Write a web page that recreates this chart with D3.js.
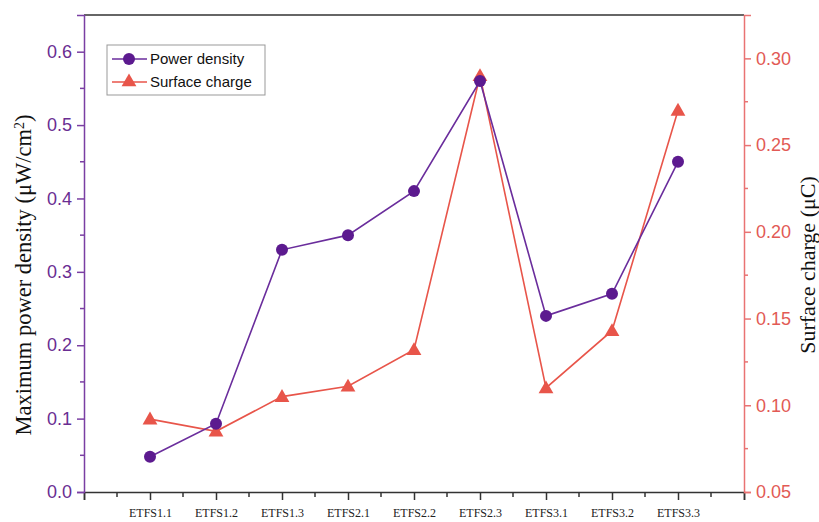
<!DOCTYPE html>
<html>
<head>
<meta charset="utf-8">
<script src="https://cdn.jsdelivr.net/npm/d3@7"></script>
<style>
  html, body { margin: 0; padding: 0; background: #fff; }
  svg { display: block; }
</style>
</head>
<body>
<svg id="chart" width="819" height="522"></svg>
<script>
// Samples along the x axis
const categories = ["ETFS1.1", "ETFS1.2", "ETFS1.3", "ETFS2.1", "ETFS2.2", "ETFS2.3", "ETFS3.1", "ETFS3.2", "ETFS3.3"];
// Maximum power density, µW/cm² (left axis)
const powerDensity = [0.048, 0.093, 0.33, 0.35, 0.41, 0.56, 0.24, 0.27, 0.45];
// Surface charge, µC (right axis)
const surfaceCharge = [0.092, 0.085, 0.105, 0.111, 0.132, 0.29, 0.110, 0.143, 0.27];
// Tick values
const leftTicks = [0.0, 0.1, 0.2, 0.3, 0.4, 0.5, 0.6];
const rightTicks = [0.05, 0.10, 0.15, 0.20, 0.25, 0.30];

const purple = "#5c1a8f";
const purpleLine = "#6a2d9c";
const purpleAxis = "#7a3fa3";
const red = "#e8554a";
const redAxis = "#e97373";

const svg = d3.select("#chart");
const m = { left: 84, right: 744, top: 15, bottom: 492 };

const x = d3.scaleLinear().domain([0, 10]).range([m.left, m.right]);
const yL = d3.scaleLinear().domain([0, 0.65]).range([m.bottom, m.top]);
const yR = d3.scaleLinear().domain([0.05, 0.325]).range([m.bottom, m.top]);

// Frame: top edge
svg.append("line")
  .attr("x1", m.left).attr("x2", m.right)
  .attr("y1", m.top).attr("y2", m.top)
  .attr("stroke", "#333").attr("stroke-width", 1.5);

// Bottom axis with category labels and half-step minor ticks
const xMinor = d3.range(0, 10.01, 0.5).filter(v => v % 1 !== 0);
const gx = svg.append("g").attr("transform", `translate(0,${m.bottom})`);
gx.call(d3.axisBottom(x).tickValues(d3.range(0, 11)).tickSize(8)
  .tickFormat(d => (d >= 1 && d <= categories.length) ? categories[d - 1] : ""));
gx.select(".domain").attr("stroke", "#333").attr("stroke-width", 1.5);
gx.selectAll(".tick line").attr("stroke", "#333").attr("stroke-width", 1.5);
gx.selectAll(".tick text")
  .attr("font-family", "'Liberation Serif', 'Times New Roman', serif")
  .attr("font-size", 12).attr("fill", "#222").attr("dy", "1.15em");
gx.selectAll(".minor").data(xMinor).enter().append("line")
  .attr("x1", d => x(d)).attr("x2", d => x(d))
  .attr("y1", 0).attr("y2", 5)
  .attr("stroke", "#333").attr("stroke-width", 1.5);

// Left axis
const leftMinor = d3.range(0.05, 0.65, 0.1);
const gl = svg.append("g").attr("transform", `translate(${m.left},0)`);
gl.call(d3.axisLeft(yL).tickValues(leftTicks).tickSize(7).tickPadding(5).tickFormat(d3.format(".1f")));
gl.select(".domain").attr("stroke", purpleAxis).attr("stroke-width", 1.5);
gl.selectAll(".tick line").attr("stroke", purpleAxis).attr("stroke-width", 1.5);
gl.selectAll(".tick text")
  .attr("font-family", "'Liberation Sans', Arial, sans-serif")
  .attr("font-size", 18).attr("fill", "#6a2d92");
gl.selectAll(".minor").data(leftMinor).enter().append("line")
  .attr("x1", 0).attr("x2", -4)
  .attr("y1", d => yL(d)).attr("y2", d => yL(d))
  .attr("stroke", purpleAxis).attr("stroke-width", 1.5);

// Right axis
const rightMinor = d3.range(0.075, 0.325, 0.05);
const gr = svg.append("g").attr("transform", `translate(${m.right},0)`);
gr.call(d3.axisRight(yR).tickValues(rightTicks).tickSize(7).tickPadding(5).tickFormat(d3.format(".2f")));
gr.select(".domain").attr("stroke", redAxis).attr("stroke-width", 1.5);
gr.selectAll(".tick line").attr("stroke", redAxis).attr("stroke-width", 1.5);
gr.selectAll(".tick text")
  .attr("font-family", "'Liberation Sans', Arial, sans-serif")
  .attr("font-size", 18).attr("fill", "#e25a55");
gr.selectAll(".minor").data(rightMinor).enter().append("line")
  .attr("x1", 0).attr("x2", 4)
  .attr("y1", d => yR(d)).attr("y2", d => yR(d))
  .attr("stroke", redAxis).attr("stroke-width", 1.5);

// Axis titles
svg.append("text")
  .attr("transform", "translate(31,275) rotate(-90)")
  .attr("text-anchor", "middle")
  .attr("font-family", "'Liberation Serif', 'Times New Roman', serif")
  .attr("font-size", 22.5).attr("fill", "#111")
  .html("Maximum power density (μW/cm<tspan baseline-shift='super' font-size='14'>2</tspan>)");

svg.append("text")
  .attr("transform", "translate(815,265) rotate(-90)")
  .attr("text-anchor", "middle")
  .attr("font-family", "'Liberation Serif', 'Times New Roman', serif")
  .attr("font-size", 22).attr("fill", "#111")
  .text("Surface charge (μC)");

// Series lines
const idx = d3.range(categories.length);
const lineL = d3.line().x(i => x(i + 1)).y(i => yL(powerDensity[i]));
const lineR = d3.line().x(i => x(i + 1)).y(i => yR(surfaceCharge[i]));

svg.append("path").datum(idx).attr("d", lineR)
  .attr("fill", "none").attr("stroke", red).attr("stroke-width", 1.6);
svg.append("path").datum(idx).attr("d", lineL)
  .attr("fill", "none").attr("stroke", purpleLine).attr("stroke-width", 1.6);

// Markers
const tri = d3.symbol().type(d3.symbolTriangle).size(95);
svg.selectAll(".tri").data(idx).enter().append("path")
  .attr("transform", i => `translate(${x(i + 1)},${yR(surfaceCharge[i]) + 1})`)
  .attr("d", tri).attr("fill", red);
svg.selectAll(".dot").data(idx).enter().append("circle")
  .attr("cx", i => x(i + 1)).attr("cy", i => yL(powerDensity[i]))
  .attr("r", 6).attr("fill", purple);

// Legend
const lg = svg.append("g").attr("transform", "translate(107,45)");
lg.append("rect").attr("width", 158).attr("height", 50)
  .attr("fill", "#fff").attr("stroke", "#999").attr("stroke-width", 1);
const legendItems = [
  { label: "Power density", color: purpleLine, marker: "circle" },
  { label: "Surface charge", color: red, marker: "triangle" }
];
legendItems.forEach((d, i) => {
  const cy = 14 + i * 23;
  lg.append("line").attr("x1", 5).attr("x2", 40).attr("y1", cy).attr("y2", cy)
    .attr("stroke", d.color).attr("stroke-width", 1.6);
  if (d.marker === "circle") {
    lg.append("circle").attr("cx", 22).attr("cy", cy).attr("r", 6).attr("fill", purple);
  } else {
    lg.append("path").attr("transform", `translate(22,${cy})`).attr("d", tri).attr("fill", red);
  }
  lg.append("text").attr("x", 43).attr("y", cy + 5)
    .attr("font-family", "'Liberation Sans', Arial, sans-serif")
    .attr("font-size", 15).attr("fill", "#111").text(d.label);
});
</script>
</body>
</html>
